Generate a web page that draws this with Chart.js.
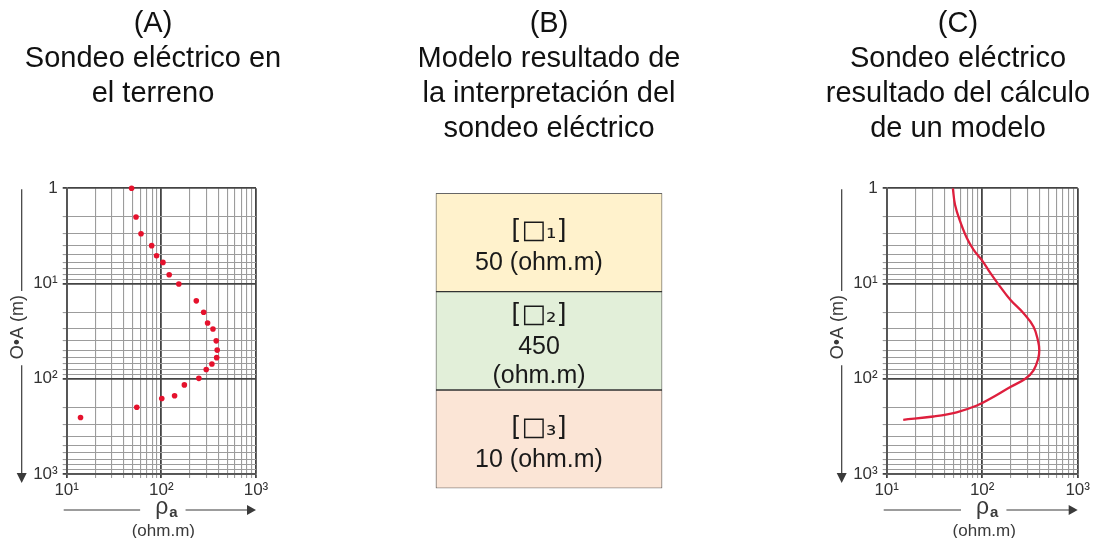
<!DOCTYPE html>
<html><head><meta charset="utf-8">
<script src="https://cdn.jsdelivr.net/npm/chart.js@4.4.0/dist/chart.umd.min.js"></script>
<style>
html,body{margin:0;padding:0;background:#fff;}
body{width:1094px;height:538px;position:relative;overflow:hidden;}
.panel{position:absolute;top:0;height:538px;}
</style></head><body>
<div class="panel" style="left:0;width:280px"><canvas id="ca"></canvas></div>
<div class="panel" style="left:420px;width:260px"><canvas id="cb"></canvas></div>
<div class="panel" style="left:820px;width:274px"><canvas id="cc"></canvas></div>
<script>
// ---- Titles ----
const titleA = ['(A)', 'Sondeo eléctrico en', 'el terreno'];
const titleB = ['(B)', 'Modelo resultado de', 'la interpretación del', 'sondeo eléctrico'];
const titleC = ['(C)', 'Sondeo eléctrico', 'resultado del cálculo', 'de un modelo'];

// ---- Axis texts ----
const yAxisTitle = 'O•A (m)';
const xAxisSymbol = 'ρ';
const xAxisSub = 'a';
const xAxisUnit = '(ohm.m)';

// ---- Panel A: field sounding (points) ----
const fieldRho = [48.5, 54, 61, 79, 89, 104, 121, 153, 234, 280, 308, 351, 380, 389, 384, 342, 298, 249, 175, 138, 101, 55, 14];
const fieldOA  = [1.0, 2.0, 3.0, 4.0, 5.1, 6.0, 8.1, 10.1, 15.2, 20, 26, 30, 40, 50, 60, 70, 80, 99, 116, 151, 161, 199, 255];

// ---- Panel C: computed sounding (curve) ----
const modelRho = [49.3, 52, 58.8, 69, 81, 100, 121, 148, 197, 271, 345, 386, 396, 386, 345, 283, 197, 121, 88, 54, 30.8, 14.9];
const modelOA  = [1.0, 1.5, 2.23, 3.33, 4.4, 5.75, 7.7, 10.2, 14.8, 20.5, 28.4, 40.9, 50, 61.4, 81.6, 100, 122, 162, 191, 225, 249, 270];

// ---- Panel B: layered model ----
const layerNames = ['[□₁]', '[□₂]', '[□₃]'];
const layerValues = [['50 (ohm.m)'], ['450', '(ohm.m)'], ['10 (ohm.m)']];
const layerThickness = [1, 1, 1];
const layerColors = ['#fff2cc', '#e2efd9', '#fbe5d6'];

// ---- Ticks ----
const majorTicks = [1, 10, 100, 1000];
const majorLabels = ['1', '10¹', '10²', '10³'];
const minorSteps = [2, 3, 4, 5, 6, 7, 8, 9];

const SANS = '"Liberation Sans", Arial, sans-serif';

function logTickValues(min, max) {
  const out = [];
  for (const d of majorTicks) {
    if (d < min || d > max) continue;
    out.push(d);
    if (d < max) for (const m of minorSteps) out.push(m * d);
  }
  return out;
}
const isMajor = v => majorTicks.includes(v);

function titlePlugin(lines, cx) {
  return {
    id: 'panelTitle',
    afterDraw(chart) {
      const ctx = chart.ctx;
      ctx.save();
      ctx.fillStyle = '#111';
      ctx.font = '29px ' + SANS;
      ctx.textAlign = 'center';
      ctx.textBaseline = 'alphabetic';
      lines.forEach((t, i) => ctx.fillText(t, cx, 32 + 35 * i));
      ctx.restore();
    }
  };
}

const axisDecor = {
  id: 'axisDecor',
  afterDraw(chart) {
    const ctx = chart.ctx, ca = chart.chartArea;
    ctx.save();
    ctx.strokeStyle = '#3a3a3a';
    ctx.fillStyle = '#3a3a3a';
    ctx.lineWidth = 1.2;
    const lx = ca.left - 45;
    const ty = (ca.top + ca.bottom) / 2 - 4;
    ctx.font = '18px ' + SANS;
    const w = ctx.measureText(yAxisTitle).width;
    ctx.beginPath();
    ctx.moveTo(lx, ca.top + 1); ctx.lineTo(lx, ty - w / 2 - 4);
    ctx.moveTo(lx, ty + w / 2 + 6); ctx.lineTo(lx, ca.bottom);
    ctx.stroke();
    ctx.beginPath();
    ctx.moveTo(lx - 5, ca.bottom - 1); ctx.lineTo(lx + 5, ca.bottom - 1); ctx.lineTo(lx, ca.bottom + 9);
    ctx.closePath(); ctx.fill();
    ctx.save();
    ctx.translate(lx - 4, ty);
    ctx.rotate(-Math.PI / 2);
    ctx.textAlign = 'center'; ctx.textBaseline = 'middle';
    ctx.fillText(yAxisTitle, 0, 0);
    ctx.restore();
    const cy = ca.bottom + 36;
    const cx = (ca.left + ca.right) / 2 + 5;
    ctx.font = '23px ' + SANS;
    const w1 = ctx.measureText(xAxisSymbol).width;
    ctx.font = 'bold 15px ' + SANS;
    const w2 = ctx.measureText(xAxisSub).width;
    const wt = w1 + w2 + 1;
    const x0 = cx - wt / 2;
    ctx.textBaseline = 'alphabetic'; ctx.textAlign = 'left';
    ctx.font = '23px ' + SANS;
    ctx.fillText(xAxisSymbol, x0, cy + 4);
    ctx.font = 'bold 15px ' + SANS;
    ctx.fillText(xAxisSub, x0 + w1 + 1, cy + 7);
    ctx.beginPath();
    ctx.moveTo(ca.left - 3, cy); ctx.lineTo(x0 - 15, cy);
    ctx.moveTo(x0 + wt + 8, cy); ctx.lineTo(ca.right - 8, cy);
    ctx.stroke();
    ctx.beginPath();
    ctx.moveTo(ca.right - 9, cy - 5); ctx.lineTo(ca.right - 9, cy + 5); ctx.lineTo(ca.right, cy);
    ctx.closePath(); ctx.fill();
    ctx.font = '17px ' + SANS;
    ctx.textAlign = 'center'; ctx.textBaseline = 'middle';
    ctx.fillText(xAxisUnit, cx - 3, cy + 21);
    ctx.restore();
  }
};

function logAxis(axis, min, max, fit) {
  const vals = logTickValues(min, max);
  return {
    type: 'logarithmic',
    min: min, max: max,
    reverse: axis === 'y',
    afterBuildTicks: s => { s.ticks = vals.map(v => ({ value: v, major: isMajor(v) })); },
    afterFit: fit,
    ticks: {
      autoSkip: false,
      maxRotation: 0,
      padding: axis === 'y' ? 5 : 2,
      color: '#333',
      font: { family: SANS, size: 17 },
      callback: v => { const i = majorTicks.indexOf(v); return i >= 0 ? majorLabels[i] : ''; }
    },
    grid: {
      color: c => (c.tick && isMajor(c.tick.value)) ? '#444' : '#9c9c9c',
      lineWidth: c => (c.tick && isMajor(c.tick.value)) ? 1.8 : 1.1,
      tickLength: 4
    },
    border: { display: true, color: '#555', width: 1.8 }
  };
}

function sondeoChart(id, rightPad, dataset, title, tcx) {
  return new Chart(document.getElementById(id), {
    type: 'scatter',
    data: { datasets: [dataset] },
    options: {
      responsive: true, maintainAspectRatio: false, animation: false,
      layout: { padding: { top: 188.3, right: rightPad, left: 0, bottom: 0 } },
      plugins: { legend: { display: false }, tooltip: { enabled: false } },
      scales: {
        x: logAxis('x', 10, 1000, s => { s.height = 64; }),
        y: logAxis('y', 1, 1000, s => { s.width = 66.7; })
      }
    },
    plugins: [axisDecor, titlePlugin(title, tcx)]
  });
}

sondeoChart('ca', 24, {
  data: fieldRho.map((r, i) => ({ x: r, y: fieldOA[i] })),
  pointRadius: 2.8, pointBackgroundColor: '#e5122d', pointBorderWidth: 0,
  showLine: false, clip: false
}, titleA, 153);

sondeoChart('cc', 16.3, {
  data: modelRho.map((r, i) => ({ x: r, y: modelOA[i] })),
  pointRadius: 0, showLine: true, tension: 0.4,
  borderColor: '#de1f3d', borderWidth: 2.3, clip: false
}, titleC, 138);

// Panel B
const layerText = {
  id: 'layerText',
  afterDatasetsDraw(chart) {
    const ctx = chart.ctx;
    ctx.save();
    ctx.fillStyle = '#1a1a1a';
    ctx.textAlign = 'center';
    ctx.textBaseline = 'middle';
    chart.data.datasets.forEach((ds, i) => {
      const el = chart.getDatasetMeta(i).data[0];
      const top = Math.min(el.y, el.base), bot = Math.max(el.y, el.base);
      const mid = (top + bot) / 2 + 5;
      const vals = layerValues[i];
      const gap1 = 32, gap2 = 29;
      const total = gap1 + gap2 * (vals.length - 1);
      let y = mid - total / 2;
      const tx = el.x - 10;
      ctx.font = '26px "DejaVu Sans", sans-serif';
      ctx.fillText(layerNames[i], tx, y);
      y += gap1;
      ctx.font = '25px ' + SANS;
      vals.forEach(t => { ctx.fillText(t, tx, y); y += gap2; });
    });
    ctx.restore();
  }
};

new Chart(document.getElementById('cb'), {
  type: 'bar',
  data: {
    labels: ['modelo'],
    datasets: layerNames.map((n, i) => ({
      label: n,
      data: [layerThickness[i]],
      backgroundColor: layerColors[i],
      borderColor: '#333',
      borderWidth: 1,
      borderSkipped: false,
      barPercentage: 1, categoryPercentage: 1
    }))
  },
  options: {
    responsive: true, maintainAspectRatio: false, animation: false,
    layout: { padding: { top: 193.3, bottom: 49.7, left: 15.7, right: 17.7 } },
    plugins: { legend: { display: false }, tooltip: { enabled: false } },
    scales: {
      x: { display: false, stacked: true },
      y: { display: false, stacked: true, reverse: true, min: 0, max: layerThickness.reduce((a, b) => a + b, 0) }
    }
  },
  plugins: [layerText, titlePlugin(titleB, 129)]
});
</script>
</body></html>
